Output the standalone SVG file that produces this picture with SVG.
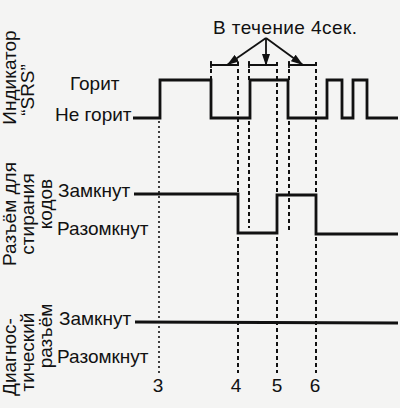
<svg xmlns="http://www.w3.org/2000/svg" width="400" height="408" viewBox="0 0 400 408">
<defs>
<style>
text{font-family:"Liberation Sans",Arial,sans-serif;font-size:19px;fill:#111}
.rot{text-anchor:middle}
.num{text-anchor:middle;font-size:19px}
.sig{fill:none;stroke:#111;stroke-width:2.8;stroke-linejoin:miter}
.dash{stroke:#111;stroke-width:2;stroke-dasharray:4 3;fill:none}
.dot{stroke:#111;stroke-width:1.6;stroke-dasharray:2 3;fill:none}
.ln{stroke:#111;stroke-width:1.8;fill:none}
</style>
<marker id="ah" viewBox="0 0 12 8" refX="12" refY="4" markerWidth="12" markerHeight="8" markerUnits="userSpaceOnUse" orient="auto">
<path d="M0,0 L12,4 L0,8 Z" fill="#111"/>
</marker>
</defs>
<rect width="400" height="408" fill="#f4f4f3"/>
<g id="side-labels">
<text class="rot" transform="translate(15.5,77.5) rotate(-90)">Индикатор</text>
<text class="rot" transform="translate(34,90) rotate(-90)">“SRS”</text>
<text class="rot" transform="translate(15.5,214) rotate(-90)">Разъём для</text>
<text class="rot" transform="translate(33.5,214) rotate(-90)">стирания</text>
<text class="rot" transform="translate(51.5,204) rotate(-90)">кодов</text>
<text class="rot" transform="translate(15.5,357) rotate(-90)">Диагнос-</text>
<text class="rot" transform="translate(33.5,352) rotate(-90)">тический</text>
<text class="rot" transform="translate(51.5,336) rotate(-90)">разъём</text>
</g>
<g id="state-labels">
<text x="70" y="90">Горит</text>
<text x="55" y="121">Не горит</text>
<text x="58" y="197">Замкнут</text>
<text x="57" y="235">Разомкнут</text>
<text x="59" y="325">Замкнут</text>
<text x="57" y="363">Разомкнут</text>
</g>
<g id="guides">
<line class="dot" x1="159" y1="121" x2="159" y2="375"/>
<line class="dash" x1="211" y1="62" x2="211" y2="80"/>
<line class="dash" x1="238" y1="62" x2="238" y2="373"/>
<line class="dash" x1="249" y1="62" x2="249" y2="80"/>
<line class="dash" x1="249" y1="121" x2="249" y2="228"/>
<line class="dash" x1="277" y1="62" x2="277" y2="373"/>
<line class="dash" x1="289" y1="62" x2="289" y2="80"/>
<line class="dash" x1="289" y1="121" x2="289" y2="233"/>
<line class="dash" x1="316" y1="62" x2="316" y2="373"/>
</g>
<g id="srs-signal">
<path class="sig" d="M133,118 H160 V80 H211 V118 H250 V80 H288 V118 H327 V80 H342 V118 H353 V80 H367 V118 H398"/>
</g>
<g id="erase-signal">
<path class="sig" d="M134,194 H238 V233 H277 V195 H316 V234 H398"/>
</g>
<g id="diag-signal">
<path class="sig" d="M135,322 L398,323"/>
</g>
<g id="brackets">
<path class="ln" d="M211,61 V68 M211,65 H239 M249,61 V68 M249,65 H278 M289,61 V68 M289,65 H317"/>
</g>
<g id="note">
<text x="213" y="34" textLength="144">В течение 4сек.</text>
</g>
<g id="connectors">
<line class="ln" x1="266" y1="38" x2="227" y2="65" marker-end="url(#ah)"/>
<line class="ln" x1="266" y1="38" x2="266" y2="66" marker-end="url(#ah)"/>
<line class="ln" x1="266" y1="38" x2="303" y2="65" marker-end="url(#ah)"/>
</g>
<g id="ticks">
<text class="num" x="158" y="392">3</text>
<text class="num" x="236" y="392">4</text>
<text class="num" x="277" y="392">5</text>
<text class="num" x="315" y="392">6</text>
</g>
</svg>
